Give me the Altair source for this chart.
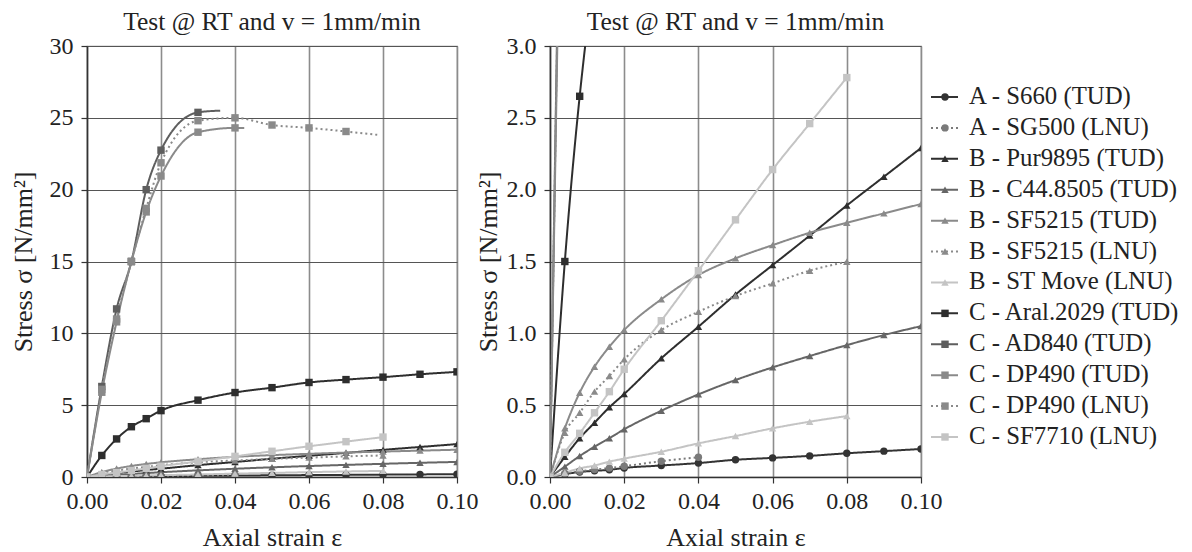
import altair as alt
import pandas as pd

names = ["A - S660 (TUD)", "A - SG500 (LNU)", "B - Pur9895 (TUD)", "B - C44.8505 (TUD)",
         "B - SF5215 (TUD)", "B - SF5215 (LNU)", "B - ST Move (LNU)", "C - Aral.2029 (TUD)",
         "C - AD840 (TUD)", "C - DP490 (TUD)", "C - DP490 (LNU)", "C - SF7710 (LNU)"]
colors = ["#333333", "#7a7a7a", "#2e2e2e", "#666666", "#8a8a8a", "#8a8a8a", "#c4c4c4",
          "#2e2e2e", "#5e5e5e", "#8a8a8a", "#8a8a8a", "#c4c4c4"]
shapes = ["circle", "circle", "triangle-up", "triangle-up", "triangle-up", "triangle-up",
          "triangle-up", "square", "square", "square", "square", "square"]
dashes = [[1, 0], [2, 3], [1, 0], [1, 0], [1, 0], [2, 3], [1, 0], [1, 0], [1, 0], [1, 0], [2, 3], [1, 0]]
sizes = [55, 55, 48, 48, 48, 48, 48, 70, 70, 70, 70, 70]

eps_full = [0, 0.004, 0.008, 0.012, 0.016, 0.02, 0.03, 0.04, 0.05, 0.06, 0.07, 0.08, 0.09, 0.10]
eps_08 = [0, 0.004, 0.008, 0.012, 0.016, 0.02, 0.03, 0.04, 0.05, 0.06, 0.07, 0.08]

s660_eps = eps_full
s660_sig = [0, 0.02, 0.035, 0.043, 0.05, 0.063, 0.08, 0.097, 0.12, 0.133, 0.147, 0.165, 0.18, 0.195]
sg500_eps = [0, 0.004, 0.008, 0.012, 0.016, 0.02, 0.03, 0.04]
sg500_sig = [0, 0.025, 0.04, 0.052, 0.062, 0.075, 0.11, 0.137]
pur_eps = eps_full
pur_sig = [0, 0.14, 0.27, 0.378, 0.485, 0.578, 0.826, 1.046, 1.27, 1.475, 1.68, 1.89, 2.09, 2.29]
c44_eps = eps_full
c44_sig = [0, 0.072, 0.146, 0.211, 0.27, 0.332, 0.461, 0.575, 0.675, 0.763, 0.842, 0.918, 0.988, 1.05]
sf5215t_eps = eps_full
sf5215t_sig = [0, 0.339, 0.587, 0.768, 0.907, 1.023, 1.237, 1.406, 1.522, 1.614, 1.70, 1.77, 1.835, 1.9]
sf5215l_eps = eps_08
sf5215l_sig = [0, 0.308, 0.447, 0.594, 0.703, 0.819, 1.023, 1.15, 1.26, 1.348, 1.436, 1.498]
stmove_eps = eps_08
stmove_sig = [0, 0.03, 0.06, 0.08, 0.107, 0.128, 0.176, 0.234, 0.285, 0.339, 0.385, 0.424]
aral_eps = eps_full
aral_sig = [0, 1.5, 2.65, 3.5, 4.06, 4.62, 5.35, 5.88, 6.22, 6.58, 6.78, 6.95, 7.15, 7.32]
ad840_eps = [0, 0.004, 0.008, 0.012, 0.016, 0.02, 0.03, 0.036]
ad840_sig = [0, 6.3, 11.7, 15.0, 20.0, 22.75, 25.38, 25.5]
ad840_mark = [1, 1, 1, 1, 1, 1, 1, 0]
dp490t_eps = [0, 0.004, 0.008, 0.012, 0.016, 0.02, 0.03, 0.04, 0.0425]
dp490t_sig = [0, 5.9, 10.8, 15.0, 18.45, 20.95, 24.0, 24.3, 24.3]
dp490t_mark = [1, 1, 1, 1, 1, 1, 1, 1, 0]
dp490l_eps = [0, 0.004, 0.008, 0.012, 0.016, 0.02, 0.03, 0.04, 0.05, 0.06, 0.07, 0.079]
dp490l_sig = [0, 6.1, 11.0, 15.0, 18.7, 21.87, 24.8, 25.0, 24.5, 24.3, 24.05, 23.8]
dp490l_mark = [1, 1, 1, 1, 1, 1, 1, 1, 1, 1, 1, 0]
sf7710_eps = eps_08
sf7710_sig = [0, 0.172, 0.304, 0.447, 0.594, 0.75, 1.088, 1.436, 1.79, 2.14, 2.46, 2.78]

series = [
    (s660_eps, s660_sig, None), (sg500_eps, sg500_sig, None), (pur_eps, pur_sig, None),
    (c44_eps, c44_sig, None), (sf5215t_eps, sf5215t_sig, None), (sf5215l_eps, sf5215l_sig, None),
    (stmove_eps, stmove_sig, None), (aral_eps, aral_sig, None), (ad840_eps, ad840_sig, ad840_mark),
    (dp490t_eps, dp490t_sig, dp490t_mark), (dp490l_eps, dp490l_sig, dp490l_mark),
    (sf7710_eps, sf7710_sig, None),
]
rows = []
for i, (name, (e, s, m)) in enumerate(zip(names, series)):
    for j, (ee, ss) in enumerate(zip(e, s)):
        rows.append({"series": name, "order": i, "eps": ee, "sig": ss,
                     "marked": 1 if m is None else m[j]})
df = pd.DataFrame(rows)
leg_df = pd.DataFrame({"series": names, "order": list(range(len(names)))})

FONT = "Times New Roman, Liberation Serif, DejaVu Serif, serif"
TXT = "#222222"
title_text = "Test @ RT and v = 1mm/min"

color_sc = alt.Scale(domain=names, range=colors)
shape_sc = alt.Scale(domain=names, range=shapes)
dash_sc = alt.Scale(domain=names, range=dashes)
size_sc = alt.Scale(domain=names, range=sizes)


def panel(ymax, ystep, yfmt, ytp, legend=False):
    xax = alt.Axis(values=[0, 0.02, 0.04, 0.06, 0.08, 0.10], format=".2f", title="Axial strain ε",
                   labelFlush=False, labelOverlap=False, grid=True, gridColor="#8c8c8c",
                   gridWidth=1.6, tickSize=6, labelPadding=6, titlePadding=11)
    yvals = [round(k * ystep, 3) for k in range(int(round(ymax / ystep)) + 1)]
    yax = alt.Axis(values=yvals, format=yfmt, title="Stress σ [N/mm²]", grid=True,
                   gridColor="#555555", gridWidth=1.2, tickSize=6, labelPadding=8,
                   titlePadding=ytp, labelOverlap=False)
    x = alt.X("eps:Q", scale=alt.Scale(domain=[0, 0.1], nice=False), axis=xax)
    y = alt.Y("sig:Q", scale=alt.Scale(domain=[0, ymax], nice=False), axis=yax)
    base = alt.Chart(df)
    lines = base.mark_line(strokeWidth=2, interpolate="monotone", clip=True).encode(
        x=x, y=y,
        color=alt.Color("series:N", scale=color_sc, legend=None),
        strokeDash=alt.StrokeDash("series:N", scale=dash_sc, legend=None),
        detail="series:N",
    )
    pts = base.transform_filter("datum.marked == 1").mark_point(filled=True, opacity=1, clip=True).encode(
        x=x, y=y,
        color=alt.Color("series:N", scale=color_sc, legend=None),
        shape=alt.Shape("series:N", scale=shape_sc, legend=None),
        size=alt.Size("series:N", scale=size_sc, legend=None),
    )
    data_layer = alt.layer(lines, pts)
    if not legend:
        return data_layer.properties(width=370, height=431, title=title_text)
    ly = alt.Y("order:Q", scale=alt.Scale(domain=[0, 11], range=[51, 391], nice=False, zero=False), axis=None)
    lb = alt.Chart(leg_df)
    lrule = lb.mark_rule(strokeWidth=2).encode(
        x=alt.value(381), x2=alt.value(408), y=ly,
        color=alt.Color("series:N", scale=color_sc, legend=None),
        strokeDash=alt.StrokeDash("series:N", scale=dash_sc, legend=None),
    )
    lpt = lb.mark_point(filled=True, opacity=1).encode(
        x=alt.value(395), y=ly,
        color=alt.Color("series:N", scale=color_sc, legend=None),
        shape=alt.Shape("series:N", scale=shape_sc, legend=None),
        size=alt.Size("series:N", scale=size_sc, legend=None),
    )
    ltxt = lb.mark_text(align="left", baseline="middle", font=FONT, fontSize=24.8, color=TXT).encode(
        x=alt.value(419), y=ly, text="series:N",
    )
    leg_layer = alt.layer(lrule, lpt, ltxt)
    return alt.layer(data_layer, leg_layer).resolve_scale(y="independent").properties(
        width=371, height=431, title=title_text)


left = panel(30, 5, "d", 13)
right = panel(3.0, 0.5, ".1f", 5, legend=True)

chart = alt.hconcat(left, right, spacing=93, bounds="flush").configure(
    font=FONT, padding={"left": 1, "top": 0, "right": 0, "bottom": 0}
).configure_view(stroke="#8c8c8c", strokeWidth=1.2).configure_axis(
    labelFont=FONT, titleFont=FONT, labelFontSize=24, titleFontSize=26,
    labelColor=TXT, titleColor=TXT, titleFontWeight="normal",
    domainColor="#333333", domainWidth=1.5, tickColor="#333333", tickWidth=1.2,
).configure_title(
    font=FONT, fontSize=25.5, fontWeight="normal", color=TXT, offset=-1, anchor="middle"
)

chart.save("out.html", embed_options={"renderer": "svg", "actions": False})
